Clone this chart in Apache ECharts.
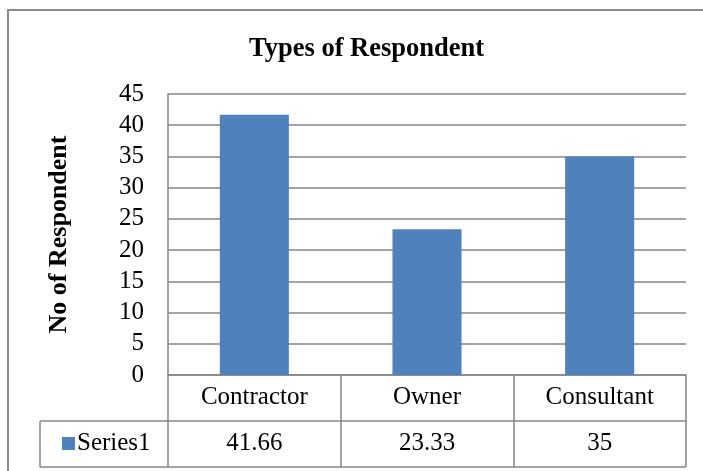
<!DOCTYPE html>
<html>
<head>
<meta charset="utf-8">
<script src="https://cdn.jsdelivr.net/npm/echarts@6/dist/echarts.min.js"></script>
<style>
  html, body { margin: 0; padding: 0; background: #fff; }
  #main { width: 703px; height: 471px; }
</style>
</head>
<body>
<div id="main"></div>
<script>
// data
var categories = ['Contractor', 'Owner', 'Consultant'];
var series1 = [41.66, 23.33, 35];
var seriesName = 'Series1';
var yTicks = { min: 0, max: 45, step: 5 };

var lineGray = '#868686';
var font = 'Liberation Serif';
var fs = 25;

var myChart = echarts.init(document.getElementById('main'));

myChart.setOption({
  animation: false,
  title: {
    text: 'Types of Respondent',
    left: 244,
    top: 31,
    textStyle: { fontFamily: font, fontSize: 26.5, fontWeight: 'bold', color: '#000' }
  },
  legend: {
    data: [seriesName],
    left: 62,
    top: 431,
    icon: 'rect',
    itemWidth: 13,
    itemHeight: 13,
    itemGap: 5,
    padding: 0,
    textStyle: { fontFamily: font, fontSize: fs, color: '#000', padding: [0, 0, 0, -3] }
  },
  grid: { left: 168, right: 17, top: 94, bottom: 96 },
  xAxis: [
    {
      type: 'category',
      data: categories,
      position: 'bottom',
      axisLine: { show: true, lineStyle: { color: lineGray, width: 1.5 } },
      axisTick: { show: true, length: 46, interval: 0, lineStyle: { color: lineGray, width: 1.5 } },
      axisLabel: { fontFamily: font, fontSize: fs, color: '#000', margin: 10 }
    },
    {
      type: 'category',
      data: categories,
      position: 'bottom',
      offset: 46,
      axisLine: { show: true, lineStyle: { color: lineGray, width: 1.5 } },
      axisTick: { show: true, length: 46, interval: 0, lineStyle: { color: lineGray, width: 1.5 } },
      axisLabel: {
        fontFamily: font, fontSize: fs, color: '#000', margin: 10,
        formatter: function (v, i) { return String(series1[i]); }
      }
    }
  ],
  yAxis: {
    type: 'value',
    min: yTicks.min,
    max: yTicks.max,
    interval: yTicks.step,
    name: 'No of Respondent',
    nameLocation: 'middle',
    nameGap: 96,
    nameTextStyle: { fontFamily: font, fontSize: 26, fontWeight: 'bold', color: '#000' },
    axisLine: { show: true, lineStyle: { color: lineGray, width: 1.5 } },
    axisTick: { show: false },
    axisLabel: { fontFamily: font, fontSize: fs, color: '#000', margin: 24 },
    splitLine: { show: true, lineStyle: { color: lineGray, width: 1.5 } }
  },
  series: [
    {
      name: seriesName,
      type: 'bar',
      xAxisIndex: 0,
      data: series1,
      barWidth: '40%',
      itemStyle: { color: '#4F81BD' }
    }
  ],
  graphic: [
    // outer chart border
    { type: 'rect', shape: { x: 8, y: 10, width: 720, height: 490 },
      style: { fill: 'none', stroke: '#8a8a8a', lineWidth: 2 }, silent: true },
    // series name cell of the data table
    { type: 'line', shape: { x1: 40, y1: 421, x2: 168, y2: 421 },
      style: { stroke: lineGray, lineWidth: 1.5 } },
    { type: 'line', shape: { x1: 40, y1: 421, x2: 40, y2: 467 },
      style: { stroke: lineGray, lineWidth: 1.5 } },
    { type: 'line', shape: { x1: 40, y1: 467, x2: 686, y2: 467 },
      style: { stroke: lineGray, lineWidth: 1.5 } }
  ]
});
</script>
</body>
</html>
